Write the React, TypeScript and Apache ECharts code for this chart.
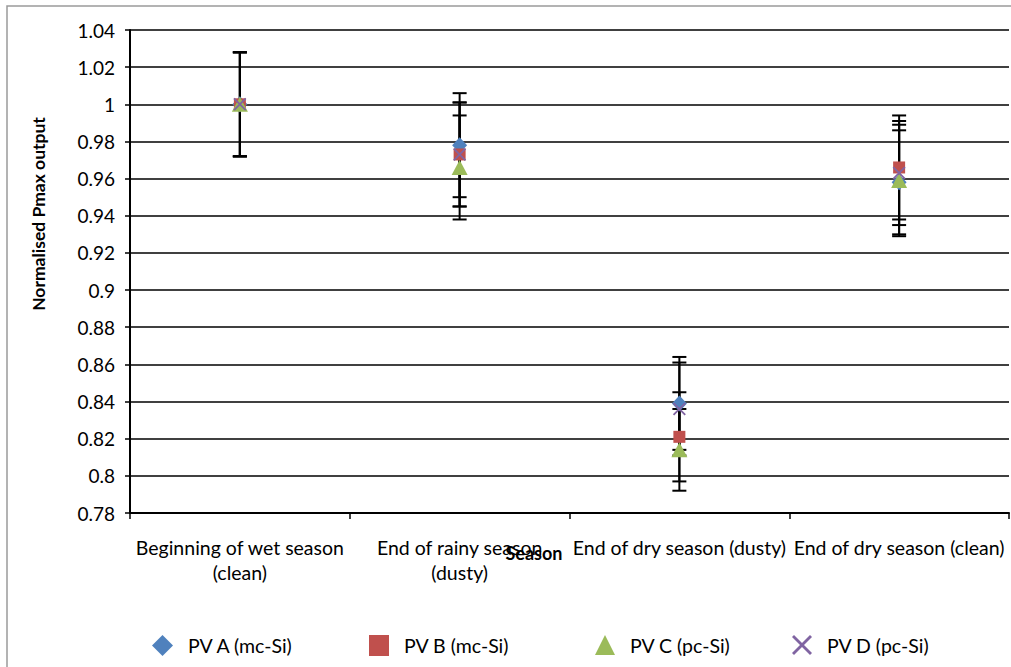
import React, { useEffect, useRef } from "react";
import * as echarts from "echarts";

const categories = [
  "Beginning of wet season\n(clean)",
  "End of rainy season\n(dusty)",
  "End of dry season (dusty)",
  "End of dry season (clean)",
];
const seriesNames = ["PV A (mc-Si)", "PV B (mc-Si)", "PV C (pc-Si)", "PV D (pc-Si)"];
const pvA = [1.0, 0.978, 0.839, 0.958];
const pvB = [1.0, 0.973, 0.821, 0.966];
const pvC = [1.0, 0.966, 0.814, 0.959];
const pvD = [1.0, 0.973, 0.836, 0.963];
const errA = [0.028, 0.028, 0.025, 0.028];
const errB = [0.028, 0.028, 0.024, 0.028];
const errC = [0.028, 0.028, 0.022, 0.03];
const errD = [0.028, 0.028, 0.025, 0.028];

const colors = ["#4F81BD", "#C0504D", "#9BBB59", "#8064A2"];
const crossPath =
  "path://M0,1 L1,0 L5,4 L9,0 L10,1 L6,5 L10,9 L9,10 L5,6 L1,10 L0,9 L4,5 Z";
const symbols = ["diamond", "rect", "triangle", crossPath];
const symbolSizes: any[] = [[15, 16], [12, 12], [16, 15], [13, 13]];
const legendSizes: any[] = [[21, 21], [20, 21], [20, 20], [20, 20]];
const legendLeft = [147, 364, 590, 787];

const FONT = "Lato";

export default function App() {
  const ref = useRef<HTMLDivElement>(null);
  useEffect(() => {
    if (!ref.current) return;
    const chart = echarts.init(ref.current, null, { renderer: "svg" });
    const values = [pvA, pvB, pvC, pvD];
    const errs = [errA, errB, errC, errD];

    const errorSeries = values.map((vals, s) => ({
      type: "custom",
      name: seriesNames[s] + " err",
      z: 2,
      silent: true,
      data: vals.map((v, i) => [i, v - errs[s][i], v + errs[s][i]]),
      encode: { x: 0, y: [1, 2] },
      renderItem: (params: any, api: any) => {
        const i = api.value(0);
        const lo = api.coord([i, api.value(1)]);
        const hi = api.coord([i, api.value(2)]);
        const hw = 7;
        const st = { stroke: "#000", lineWidth: 2 };
        return {
          type: "group",
          children: [
            { type: "line", shape: { x1: lo[0], y1: lo[1], x2: hi[0], y2: hi[1] }, style: st },
            { type: "line", shape: { x1: lo[0] - hw, y1: lo[1], x2: lo[0] + hw, y2: lo[1] }, style: st },
            { type: "line", shape: { x1: hi[0] - hw, y1: hi[1], x2: hi[0] + hw, y2: hi[1] }, style: st },
          ],
        };
      },
    }));

    const scatterSeries = values.map((vals, s) => ({
      type: "scatter",
      name: seriesNames[s],
      z: 3 + s,
      symbol: symbols[s],
      symbolSize: symbolSizes[s],
      itemStyle: { color: colors[s], opacity: 1 },
      data: vals,
    }));

    const legends = seriesNames.map((n, s) => ({
      show: true,
      left: legendLeft[s],
      top: 630,
      itemWidth: legendSizes[s][0],
      itemHeight: legendSizes[s][1],
      data: [{ name: n, icon: symbols[s] }],
      selectedMode: false,
      textStyle: { fontFamily: FONT, fontSize: 19.5, color: "#000", padding: [0, 0, 0, 10] },
    }));

    chart.setOption({
      animation: false,
      backgroundColor: "#fff",
      grid: { left: 130, top: 30, right: 2, bottom: 154, containLabel: false },
      legend: legends,
      xAxis: {
        type: "category",
        data: categories,
        boundaryGap: true,
        axisLine: { lineStyle: { color: "#000", width: 2 } },
        axisTick: { show: true, length: 6, lineStyle: { color: "#000", width: 1.5 }, alignWithLabel: false },
        axisLabel: {
          interval: 0,
          margin: 22,
          fontFamily: FONT,
          fontSize: 19.5,
          color: "#000",
          lineHeight: 25,
        },
        splitLine: { show: false },
      },
      yAxis: {
        type: "value",
        min: 0.78,
        max: 1.04,
        interval: 0.02,
        axisLine: { show: true, lineStyle: { color: "#000", width: 2 } },
        axisTick: { show: true, length: 5, lineStyle: { color: "#000", width: 1.5 } },
        axisLabel: {
          margin: 15,
          fontFamily: FONT,
          fontSize: 19,
          color: "#000",
          formatter: (v: number) => String(Math.round(v * 100) / 100),
        },
        splitLine: { show: true, lineStyle: { color: "#000", width: 1.5 } },
      },
      graphic: [
        {
          type: "rect",
          silent: true,
          shape: { x: 7, y: 6, width: 1100, height: 700 },
          style: { fill: "none", stroke: "#9a9a9a", lineWidth: 1.5 },
          z: 0,
        },
        {
          type: "text",
          x: 38,
          y: 214,
          rotation: Math.PI / 2,
          style: {
            text: "Normalised Pmax output",
            fontFamily: FONT,
            fontWeight: "bold",
            fontSize: 17.5,
            fill: "#000",
            align: "center",
            verticalAlign: "middle",
          },
        },
        {
          type: "text",
          x: 534,
          y: 553,
          style: {
            text: "Season",
            fontFamily: FONT,
            fontWeight: "bold",
            fontSize: 18,
            fill: "#000",
            align: "center",
            verticalAlign: "middle",
          },
        },
      ],
      series: [...errorSeries, ...scatterSeries],
    });
    return () => chart.dispose();
  }, []);
  return (
    <div
      ref={ref}
      style={{ position: "absolute", left: 0, top: 0, width: 1011, height: 667 }}
    />
  );
}
